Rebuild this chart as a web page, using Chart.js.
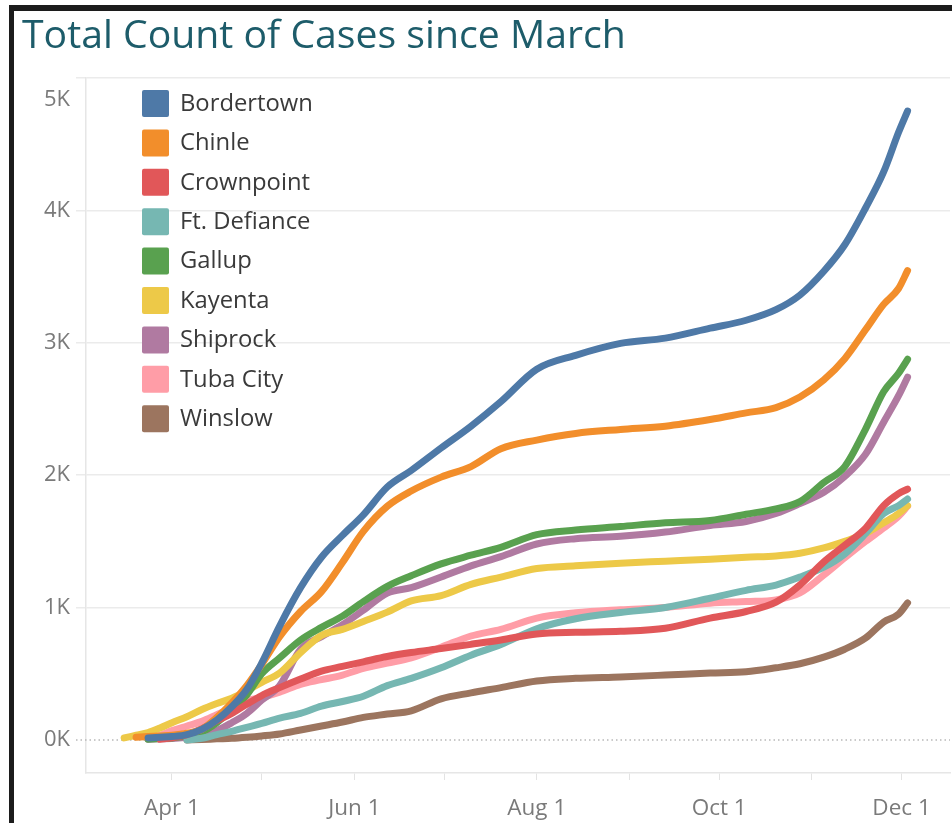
<!DOCTYPE html>
<html>
<head>
<meta charset="utf-8">
<script src="https://cdn.jsdelivr.net/npm/chart.js@4.4.0/dist/chart.umd.min.js"></script>
<style>
  html, body { margin: 0; padding: 0; background: #fff; }
  body { width: 952px; height: 823px; position: relative; overflow: hidden; font-family: "Open Sans", sans-serif; }
  #frame { position: absolute; left: 9px; top: 5px; right: 0; bottom: 0; border-top: 6px solid #1c1c1c; border-left: 5px solid #1c1c1c; }
  #title { position: absolute; left: 22px; top: 14px; font-size: 39.2px; line-height: 38px; color: #1d5c6a; white-space: nowrap; }
  #wrap { position: absolute; left: 0; top: 0; width: 952px; height: 823px; }
</style>
</head>
<body>
<div id="frame"></div>
<div id="wrap"><canvas id="Chart"></canvas></div>
<div id="title">Total Count of Cases since March</div>
<script>
// days counted from Apr 1
const days = [-16, -12, -8, -4, 0, 5, 10, 15, 20, 25, 30, 36, 43, 50, 57, 64, 72, 80, 90, 100,
  110, 122, 135, 150, 165, 180, 192, 202, 210, 218, 225, 232, 238, 243, 246];

const towns = ['Bordertown', 'Chinle', 'Crownpoint', 'Ft. Defiance', 'Gallup', 'Kayenta', 'Shiprock', 'Tuba City', 'Winslow'];

const bordertown = [null, null, 15, 20, 25, 40, 80, 150, 250, 380, 580, 860, 1150, 1380, 1545, 1700, 1910, 2035, 2205, 2370,
  2555, 2800, 2905, 2995, 3035, 3110, 3170, 3250, 3360, 3540, 3740, 4020, 4290, 4590, 4750];
const chinle = [null, 20, 25, 30, 35, 50, 80, 170, 280, 410, 570, 780, 970, 1120, 1340, 1575, 1765, 1880, 1985, 2065,
  2200, 2265, 2315, 2345, 2370, 2420, 2470, 2510, 2590, 2720, 2880, 3100, 3290, 3410, 3545];
const crownpoint = [null, null, null, 5, 15, 40, 85, 145, 200, 270, 335, 395, 460, 520, 555, 590, 630, 660, 690, 722,
  755, 800, 813, 820, 843, 920, 970, 1040, 1170, 1345, 1470, 1600, 1770, 1860, 1895];
const ftDefiance = [null, null, null, null, null, 0, 12, 40, 65, 95, 125, 165, 200, 255, 290, 330, 410, 465, 545, 640,
  720, 840, 915, 962, 1000, 1070, 1130, 1170, 1230, 1305, 1405, 1560, 1710, 1770, 1820];
const gallup = [null, null, 5, 10, 15, 30, 60, 130, 230, 340, 500, 620, 755, 850, 935, 1045, 1160, 1240, 1330, 1395,
  1455, 1550, 1585, 1612, 1640, 1658, 1705, 1745, 1800, 1945, 2065, 2350, 2630, 2770, 2875];
const kayenta = [15, 35, 55, 90, 130, 175, 230, 275, 315, 370, 435, 505, 660, 790, 835, 895, 965, 1050, 1090, 1175,
  1230, 1295, 1315, 1335, 1350, 1365, 1380, 1390, 1410, 1450, 1500, 1560, 1640, 1710, 1770];
const shiprock = [null, null, 5, 8, 10, 20, 35, 70, 130, 200, 300, 410, 685, 780, 870, 980, 1110, 1150, 1230, 1315,
  1385, 1480, 1520, 1538, 1570, 1620, 1650, 1710, 1785, 1870, 1990, 2160, 2400, 2600, 2740];
const tubaCity = [null, null, 15, 35, 70, 105, 140, 190, 240, 295, 320, 360, 420, 455, 490, 540, 580, 620, 700, 785,
  835, 920, 960, 983, 1000, 1033, 1045, 1058, 1110, 1245, 1375, 1500, 1600, 1690, 1765];
const winslow = [null, null, null, null, null, 0, 3, 8, 12, 20, 30, 45, 75, 105, 135, 170, 195, 220, 310, 355,
  395, 445, 465, 476, 490, 505, 515, 545, 575, 625, 685, 770, 890, 950, 1035];

const series = [bordertown, chinle, crownpoint, ftDefiance, gallup, kayenta, shiprock, tubaCity, winslow];
const townColors = ['#4e79a7', '#f28e2b', '#e15759', '#76b7b2', '#59a14f', '#edc948', '#b07aa1', '#ff9da7', '#9c755f'];

const monthTicks = [0, 30, 61, 91, 122, 153, 183, 214, 244];
const monthLabels = ['Apr 1', '', 'Jun 1', '', 'Aug 1', '', 'Oct 1', '', 'Dec 1'];
const yTicks = [0, 1000, 2000, 3000, 4000, 5000];

Chart.defaults.font.family = '"Open Sans", sans-serif';

const zeroLine = {
  id: 'zeroLine',
  beforeDatasetsDraw(chart) {
    const ctx = chart.ctx;
    const y = chart.scales.y.getPixelForValue(0);
    ctx.save();
    ctx.strokeStyle = '#b8b8b8';
    ctx.lineWidth = 1.5;
    ctx.setLineDash([1.5, 3]);
    ctx.beginPath();
    ctx.moveTo(chart.chartArea.left - 10, y);
    ctx.lineTo(chart.chartArea.right, y);
    ctx.stroke();
    ctx.restore();
  }
};

const townLegend = {
  id: 'townLegend',
  afterDatasetsDraw(chart) {
    const ctx = chart.ctx;
    ctx.save();
    ctx.font = '23.8px "Open Sans"';
    ctx.textBaseline = 'middle';
    towns.forEach((name, i) => {
      const top = 90 + i * 39.4;
      ctx.fillStyle = townColors[i];
      ctx.beginPath();
      ctx.roundRect(142, top, 27, 27, 2);
      ctx.fill();
      ctx.fillStyle = '#3a3a3a';
      ctx.fillText(name, 180, top + 14);
    });
    ctx.restore();
  }
};

function makeDatasets() {
  return towns.map((name, i) => ({
    label: name,
    data: days.map((d, j) => ({ x: d, y: series[i][j] })).filter(p => p.y !== null),
    borderColor: townColors[i],
    backgroundColor: townColors[i],
    borderWidth: 7,
    borderCapStyle: 'round',
    borderJoinStyle: 'round',
    pointRadius: 0,
    cubicInterpolationMode: 'monotone',
    fill: false
  }));
}

const ctx = document.getElementById('Chart');
new Chart(ctx, {
  type: 'line',
  data: { datasets: makeDatasets() },
  options: {
    responsive: true,
    maintainAspectRatio: false,
    animation: false,
    layout: { padding: { top: 78, right: 2, left: 0, bottom: 0 } },
    scales: {
      x: {
        type: 'linear',
        min: -28.76,
        max: 260.2,
        afterBuildTicks: s => { s.ticks = monthTicks.map(v => ({ value: v })); },
        afterFit: s => { s.height = 50; },
        ticks: {
          callback: (v, i) => monthLabels[i],
          autoSkip: false,
          maxRotation: 0,
          color: '#7a7a7a',
          font: { size: 22.5 },
          padding: 15
        },
        grid: { drawOnChartArea: false, drawTicks: true, tickLength: 7, color: '#e3e3e3' },
        border: { color: '#e6e6e6', width: 1.5 }
      },
      y: {
        min: -250,
        max: 5000,
        afterBuildTicks: s => { s.ticks = yTicks.map(v => ({ value: v })); },
        afterFit: s => { s.width = 86; },
        ticks: {
          callback: v => v === 5000 ? ['', '5K'] : (v / 1000) + 'K',
          color: '#7a7a7a',
          font: { size: 22, lineHeight: 2 },
          padding: 6
        },
        grid: {
          color: c => (c.tick && c.tick.value === 0) ? 'rgba(0,0,0,0)' : '#ebebeb',
          lineWidth: 1.5,
          tickLength: 10
        },
        border: { color: '#e6e6e6', width: 1.5 }
      }
    },
    plugins: {
      legend: { display: false },
      tooltip: { enabled: false }
    }
  },
  plugins: [zeroLine, townLegend]
});
</script>
</body>
</html>
